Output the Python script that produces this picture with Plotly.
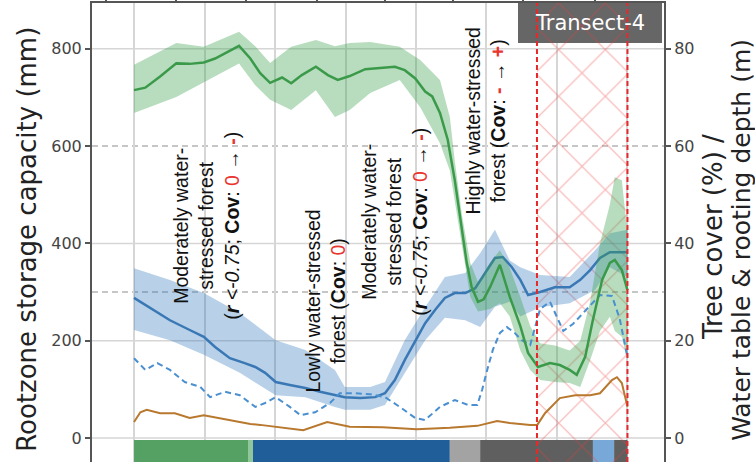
import plotly.graph_objects as go

# ---------------- data (distance along transect, grid unit = 1) ----------------
GRID_X = [0, 1, 2, 3, 4, 5, 6, 7]
TOP_TICKS = [-0.40, 0.60, 1.59, 2.60, 3.56, 4.53, 5.52, 6.54]

# Tree cover (%)
TC_X = [0.00, 0.16, 0.37, 0.60, 0.79, 0.99, 1.15, 1.29, 1.49, 1.65, 1.79, 1.93, 2.10, 2.23,
        2.38, 2.58, 2.75, 2.89, 3.06, 3.28, 3.49, 3.70, 3.84, 3.99, 4.13, 4.23, 4.34, 4.45,
        4.55, 4.65, 4.72, 4.79, 4.88, 4.96, 5.05, 5.19, 5.33, 5.48, 5.59, 5.73, 5.90, 6.04,
        6.18, 6.28, 6.40, 6.51, 6.64, 6.75, 6.82, 6.92, 7.00]
TREE_COVER = [71.5, 72.0, 74.3, 77.0, 76.9, 77.2, 78.0, 79.1, 80.6, 78.0, 75.0, 73.0, 74.1, 72.9,
              74.6, 76.3, 74.6, 73.6, 74.4, 75.8, 76.1, 76.3, 75.6, 73.9, 71.2, 70.2, 66.8, 61.3,
              53.0, 42.8, 36.0, 31.0, 28.0, 28.5, 31.0, 35.6, 29.0, 23.0, 17.5, 14.6, 15.4, 15.0,
              14.0, 13.0, 16.7, 24.3, 32.5, 36.0, 36.6, 34.5, 30.4]
TC_BAND_X = [0.00, 0.60, 0.99, 1.49, 1.72, 1.93, 2.23, 2.58, 2.85, 3.06, 3.35, 3.77, 4.06, 4.34,
             4.48, 4.55, 4.65, 4.77, 4.88, 5.05, 5.19, 5.33, 5.48, 5.62, 5.76, 5.97, 6.18, 6.33,
             6.47, 6.61, 6.75, 6.82, 6.92, 7.00]
TC_UPPER = [76.7, 81.2, 80.4, 83.5, 80.5, 77.1, 80.4, 81.8, 80.5, 81.2, 81.4, 80.4, 77.7, 73.6,
            66.0, 57.0, 46.0, 36.0, 32.0, 36.0, 38.6, 35.0, 29.0, 23.0, 19.5, 19.0, 18.0, 20.0,
            28.0, 40.0, 48.0, 53.6, 53.0, 42.0]
TC_LOWER = [66.8, 70.1, 73.2, 77.0, 72.5, 69.5, 67.4, 71.5, 66.0, 67.4, 70.9, 73.6, 68.0, 60.6,
            55.0, 49.0, 39.5, 29.0, 26.0, 26.5, 27.7, 25.0, 18.0, 14.0, 11.9, 11.5, 11.3, 10.5,
            16.0, 22.0, 24.9, 22.0, 20.8, 16.0]

# Rootzone storage capacity (mm)
RZ_X = [0.00, 0.23, 0.51, 0.79, 0.99, 1.15, 1.36, 1.57, 1.72, 1.86, 2.01, 2.21, 2.43, 2.64,
        2.85, 2.99, 3.21, 3.42, 3.56, 3.70, 3.84, 3.99, 4.13, 4.27, 4.41, 4.55, 4.70, 4.84,
        4.98, 5.12, 5.23, 5.36, 5.48, 5.59, 5.76, 5.97, 6.18, 6.33, 6.47, 6.61, 6.75, 7.00]
ROOTZONE = [288, 267, 242, 222, 208, 187, 164, 154, 146, 134, 115, 109, 103, 95,
            88, 84, 82, 84, 92, 119, 160, 201, 236, 263, 288, 298, 298, 308,
            339, 370, 372, 351, 325, 294, 300, 310, 310, 325, 345, 370, 382, 382]
RZ_BAND_X = [0.00, 0.51, 0.99, 1.50, 2.01, 2.43, 2.85, 2.99, 3.35, 3.56, 3.84, 4.13, 4.41, 4.70,
             4.91, 5.12, 5.33, 5.48, 5.76, 6.18, 6.54, 6.75, 7.00]
RZ_UPPER = [349, 325, 298, 257, 201, 181, 140, 105, 105, 115, 201, 269, 331, 339,
            380, 428, 365, 351, 335, 331, 386, 421, 428]
RZ_LOWER = [222, 201, 171, 134, 88, 84, 64, 58, 58, 68, 134, 201, 247, 242,
            228, 270, 280, 250, 269, 277, 304, 351, 331]

# Water table depth (m)
WT_X = [0.00, 0.16, 0.33, 0.51, 0.72, 0.94, 1.08, 1.29, 1.50, 1.72, 1.86, 2.01, 2.21, 2.36,
        2.57, 2.78, 2.92, 3.14, 3.35, 3.56, 3.77, 3.99, 4.13, 4.34, 4.55, 4.74, 4.87, 4.94,
        5.01, 5.09, 5.19, 5.29, 5.40, 5.50, 5.62, 5.76, 5.90, 6.09, 6.23, 6.43, 6.61, 6.78,
        6.89, 7.00]
WATER_TABLE = [16.4, 14.0, 15.4, 14.0, 11.5, 10.5, 8.4, 9.5, 8.8, 6.4, 7.2, 8.4, 6.4, 4.7,
               5.3, 7.2, 9.2, 9.2, 9.0, 8.4, 6.4, 4.1, 3.7, 6.4, 7.8, 6.8, 6.8, 10.0,
               14.0, 18.1, 21.6, 22.8, 21.6, 20.1, 19.1, 26.5, 28.0, 22.0, 23.5, 26.5, 29.4, 29.2,
               24.5, 16.6]

# Rooting depth (m)
RD_X = [0.00, 0.09, 0.18, 0.37, 0.58, 0.79, 0.99, 1.22, 1.50, 1.65, 1.79, 2.11, 2.40, 2.74,
        3.06, 3.53, 4.01, 4.48, 4.87, 5.15, 5.33, 5.62, 5.72, 5.83, 6.04, 6.26, 6.47, 6.61,
        6.78, 6.85, 6.92, 7.00]
ROOTING_DEPTH = [3.3, 5.3, 5.8, 5.1, 5.1, 4.1, 4.7, 4.1, 3.3, 2.9, 2.7, 2.1, 1.6, 3.3,
                 2.3, 2.2, 1.8, 2.1, 2.5, 3.5, 3.1, 2.7, 2.7, 5.1, 8.2, 8.8, 8.8, 9.2,
                 11.9, 12.5, 11.3, 6.4]

# Forest class strip along the transect
STRIP_BOUNDS = [0.0, 1.617, 1.688, 4.48, 4.91, 6.51, 6.81, 7.0]
STRIP_COLORS = ["#55a164", "#8fc79a", "#1f5e99", "#a3a3a3", "#5f5f5f", "#78a8d8", "#5f5f5f"]

# Transect-4 highlighted segment and label box
HATCH_RANGE = [5.716, 7.0]
LABEL_BOX_X = [5.447, 7.49]
LABEL_BOX_Y = [812, 900]

LEFT_TICKS = [0, 200, 400, 600, 800]
RIGHT_TICKS = [0, 20, 40, 60, 80]
SOLID_GRID_MM = [0, 200, 400, 800]
DASHED_MM = [600, 300]

# ---------------- figure ----------------
X_RANGE = [-0.596, 7.518]
Y_RANGE = [-49.3, 894.1]
Y2_RANGE = [v / 10 for v in Y_RANGE]

fig = go.Figure()

# strip of forest classes
centers = [(a + b) / 2 for a, b in zip(STRIP_BOUNDS[:-1], STRIP_BOUNDS[1:])]
widths = [b - a for a, b in zip(STRIP_BOUNDS[:-1], STRIP_BOUNDS[1:])]
fig.add_trace(go.Bar(x=centers, y=[56] * len(centers), base=[-60] * len(centers), width=widths,
                     marker=dict(color=STRIP_COLORS, line=dict(width=0)),
                     hoverinfo="skip", showlegend=False))

# label box (Transect-4)
fig.add_trace(go.Bar(x=[(LABEL_BOX_X[0] + LABEL_BOX_X[1]) / 2],
                     y=[LABEL_BOX_Y[1] - LABEL_BOX_Y[0]], base=[LABEL_BOX_Y[0]],
                     width=[LABEL_BOX_X[1] - LABEL_BOX_X[0]],
                     marker=dict(color="rgb(102,102,102)", line=dict(width=0)),
                     hoverinfo="skip", showlegend=False))

# hatched region
fig.add_trace(go.Bar(x=[(HATCH_RANGE[0] + HATCH_RANGE[1]) / 2], y=[1000], base=[-60],
                     width=[HATCH_RANGE[1] - HATCH_RANGE[0]],
                     marker=dict(color="rgba(0,0,0,0)", line=dict(width=0),
                                 pattern=dict(shape="x", size=33, solidity=0.07,
                                              fgcolor="rgba(235,60,60,0.8)",
                                              bgcolor="rgba(0,0,0,0)")),
                     hoverinfo="skip", showlegend=False))

# rootzone band (left axis)
fig.add_trace(go.Scatter(x=RZ_BAND_X + RZ_BAND_X[::-1], y=RZ_UPPER + RZ_LOWER[::-1],
                         fill="toself", fillcolor="rgba(40,115,185,0.33)", mode="lines",
                         line=dict(width=0), hoverinfo="skip", showlegend=False))

# tree cover band (right axis)
fig.add_trace(go.Scatter(x=TC_BAND_X + TC_BAND_X[::-1], y=TC_UPPER + TC_LOWER[::-1],
                         fill="toself", fillcolor="rgba(55,160,75,0.36)", mode="lines",
                         line=dict(width=0), yaxis="y2", hoverinfo="skip", showlegend=False))

fig.add_trace(go.Scatter(x=RD_X, y=ROOTING_DEPTH, mode="lines", yaxis="y2",
                         line=dict(color="#b8782e", width=2), showlegend=False))
fig.add_trace(go.Scatter(x=WT_X, y=WATER_TABLE, mode="lines", yaxis="y2",
                         line=dict(color="#4a8fd0", width=2, dash="6px,4px"), showlegend=False))
fig.add_trace(go.Scatter(x=RZ_X, y=ROOTZONE, mode="lines",
                         line=dict(color="#3a78b5", width=2.5), showlegend=False))
fig.add_trace(go.Scatter(x=TC_X, y=TREE_COVER, mode="lines", yaxis="y2",
                         line=dict(color="#3b9a4a", width=2.5), showlegend=False))

# dummy for top axis
fig.add_trace(go.Scatter(x=[0], y=[None], xaxis="x2", mode="lines", hoverinfo="skip",
                         showlegend=False))

shapes = []
for v in SOLID_GRID_MM:
    shapes.append(dict(type="line", xref="paper", x0=0, x1=1, yref="y", y0=v, y1=v,
                       line=dict(color="#d6d6d6", width=1.5), layer="between"))
for v in DASHED_MM:
    shapes.append(dict(type="line", xref="paper", x0=0, x1=1, yref="y", y0=v, y1=v,
                       line=dict(color="#b4b4b4", width=1.5, dash="6px,4px"), layer="between"))
for v in HATCH_RANGE:
    shapes.append(dict(type="line", xref="x", x0=v, x1=v, yref="paper", y0=0, y1=1,
                       line=dict(color="rgb(232,40,40)", width=2, dash="5px,3px"), layer="above"))

RED = "#e8352f"
ann_font = dict(family="Liberation Sans, Arial, sans-serif", size=19.5, color="#111")
title_font = dict(family="DejaVu Sans", size=26, color="#222")
annotations = [
    dict(x=1.035, y=436, xref="x", yref="y", textangle=-90, showarrow=False, font=ann_font,
         xanchor="center", yanchor="middle",
         text=("Moderately water-<br>stressed forest<br>(<b><i>r</i></b> <i>&lt;-0.75</i>; <b>Cov</b>: "
               f"<span style='color:{RED}'>0</span> → <span style='color:{RED}'><b>-</b></span>)")),
    dict(x=2.72, y=282, xref="x", yref="y", textangle=-90, showarrow=False, font=ann_font,
         xanchor="center", yanchor="middle",
         text=f"Lowly water-stressed<br>forest (<b>Cov</b>: <span style='color:{RED}'>0</span>)"),
    dict(x=3.70, y=444, xref="x", yref="y", textangle=-90, showarrow=False, font=ann_font,
         xanchor="center", yanchor="middle",
         text=("Moderately water-<br>stressed forest<br>(<b><i>r</i></b> <i>&lt;-0.75</i>; <b>Cov</b>: "
               f"<span style='color:{RED}'>0</span> → <span style='color:{RED}'><b>-</b></span>)")),
    dict(x=4.99, y=652, xref="x", yref="y", textangle=-90, showarrow=False, font=ann_font,
         xanchor="center", yanchor="middle",
         text=(f"Highly water-stressed<br>forest (<b>Cov</b>: <span style='color:{RED}'><b>-</b></span> → "
               f"<span style='color:{RED}'><b>+</b></span>)")),
    dict(x=6.47, y=0.956, xref="x", yref="paper", showarrow=False, xanchor="center",
         yanchor="middle", font=dict(family="DejaVu Sans", size=21, color="white"),
         text="Transect-4"),
    dict(x=-0.1136, y=0.484, xref="paper", yref="paper", textangle=-90, showarrow=False,
         xanchor="center", yanchor="middle", font=title_font,
         text="Rootzone storage capacity (mm)"),
    dict(x=1.0857, y=0.49, xref="paper", yref="paper", textangle=-90, showarrow=False,
         xanchor="center", yanchor="middle", font=title_font, text="Tree cover (%) /"),
    dict(x=1.1364, y=0.484, xref="paper", yref="paper", textangle=-90, showarrow=False,
         xanchor="center", yanchor="middle", font=dict(family="DejaVu Sans", size=25, color="#222"),
         text="Water table & rooting depth (m)"),
]

tickfont = dict(family="DejaVu Sans", size=16, color="#444")
fig.update_layout(
    width=755, height=462, margin=dict(l=92, r=91, t=3, b=0, autoexpand=False),
    plot_bgcolor="white", paper_bgcolor="white", barmode="overlay", showlegend=False,
    xaxis=dict(range=X_RANGE, tickvals=GRID_X, showticklabels=False, ticks="", showgrid=True,
               gridcolor="#d6d6d6", gridwidth=1.5, zeroline=False, showline=False, automargin=False),
    xaxis2=dict(range=X_RANGE, overlaying="x", side="top", anchor="y", tickvals=TOP_TICKS,
                ticks="outside", ticklen=4, tickwidth=1.5, tickcolor="#555", showticklabels=False,
                showgrid=False, zeroline=False, showline=True, linecolor="#555", linewidth=2,
                automargin=False),
    yaxis=dict(range=Y_RANGE, tickvals=LEFT_TICKS, ticks="outside", ticklen=5, tickwidth=1.5,
               tickcolor="#555", tickfont=tickfont, showgrid=False, zeroline=False,
               showline=True, linecolor="#555", linewidth=2, automargin=False),
    yaxis2=dict(range=Y2_RANGE, tickvals=RIGHT_TICKS, overlaying="y", side="right",
                ticks="outside", ticklen=5, tickwidth=1.5, tickcolor="#555", tickfont=tickfont,
                showgrid=False, zeroline=False, showline=True, linecolor="#555", linewidth=2,
                automargin=False),
    shapes=shapes, annotations=annotations,
)

fig.write_html("out.html", config={"displayModeBar": False},
               post_script="document.body.style.margin='0';document.body.style.padding='0';")
